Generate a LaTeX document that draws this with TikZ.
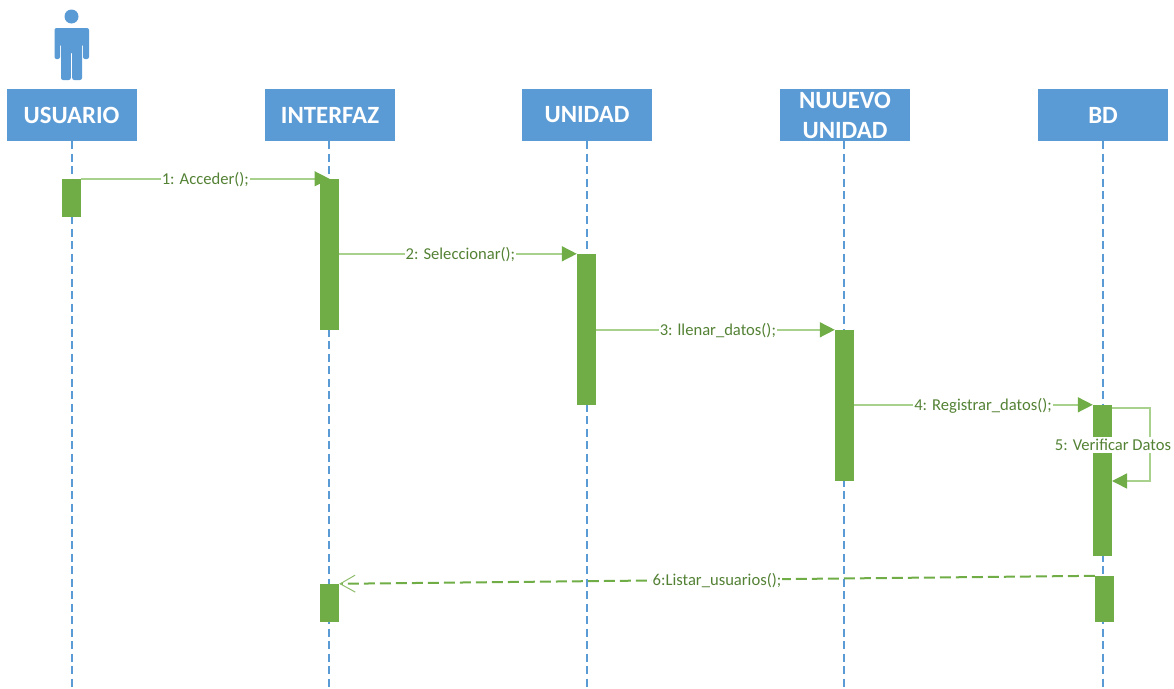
\documentclass[tikz,border=0pt]{standalone}
\usepackage{fontspec}
\setmainfont{Carlito}
\usetikzlibrary{arrows.meta}
\definecolor{boxblue}{HTML}{5B9BD5}
\definecolor{barGreen}{HTML}{70AD47}
\definecolor{lineGreen}{HTML}{A9D18E}
\definecolor{textGreen}{HTML}{548235}
\tikzset{
  headbox/.style={rectangle, fill=boxblue, text=white, inner sep=0pt, minimum width=130pt, minimum height=52pt, align=center, font=\fontsize{24.8}{30}\selectfont\bfseries},
  lifeline/.style={draw=boxblue, line width=2.2pt, dash pattern=on 8pt off 4.5pt},
  bar/.style={rectangle, fill=barGreen, inner sep=0pt, minimum width=19pt},
  msg/.style={draw=lineGreen, line width=1.5pt, -{Triangle[length=15pt, width=15pt, color=barGreen]}},
  backmsg/.style={draw=barGreen, line width=2pt, dash pattern=on 11pt off 5pt, -{Straight Barb[length=15pt, width=17pt, line width=1pt, color=barGreen!80!white]}},
  msglabel/.style={fill=white, text=textGreen, inner sep=1pt, font=\fontsize{16.6}{18}\selectfont},
}
\begin{document}
\begin{tikzpicture}[x=1pt, y=-1pt]
\useasboundingbox (0,0) rectangle (1174,688);
\fill[boxblue] (71.5,16.5) circle (7);
\fill[boxblue, rounded corners=2pt] (54.5,59) -- (54.5,28) -- (89,28) -- (89,59) -- (83,59) -- (83,44) -- (82,44) -- (82,80) -- (72.2,80) -- (72.2,52) -- (70.8,52) -- (70.8,80) -- (61,80) -- (61,44) -- (60,44) -- (60,59) -- cycle;
\node[headbox] (usuario) at (71.5,115){USUARIO};
\node[headbox] (interfaz) at (330,115){INTERFAZ};
\node[headbox] (unidad) at (587,115){UNIDAD};
\node[headbox] (nuevo) at (845,115){NUUEVO\\UNIDAD};
\node[headbox] (bd) at (1103,115){BD};
\coordinate (endusuario) at (72,688);
\coordinate (endinterfaz) at (329,688);
\coordinate (endunidad) at (587,688);
\coordinate (endnuevo) at (844,688);
\coordinate (endbd) at (1103,688);
\draw[lifeline] (72,141) -- (endusuario);
\draw[lifeline] (329,141) -- (endinterfaz);
\draw[lifeline] (587,141) -- (endunidad);
\draw[lifeline] (844,141) -- (endnuevo);
\draw[lifeline] (1103,141) -- (endbd);
\node[bar, minimum height=38pt] (bar1) at (71.5,198){};
\node[bar, minimum height=151pt] (bar2) at (329.5,254.5){};
\node[bar, minimum height=151pt] (bar3) at (586.5,329.5){};
\node[bar, minimum height=151pt] (bar4) at (844.5,405.5){};
\node[bar, minimum height=151pt] (bar5) at (1102.5,480.5){};
\node[bar, minimum height=38pt] (bar6) at (329.5,603){};
\node[bar, minimum height=46pt] (bar7) at (1104.5,599){};
\coordinate (loopout) at (1112,408);
\coordinate (loopright) at (1150,408);
\coordinate (loopdown) at (1150,481);
\coordinate (loopin) at (1112,481);
\draw[msg] (bar1.north east) -- node[msglabel, yshift=-1pt]{1: Acceder();} (bar2.north);
\draw[msg] (bar2.east |- bar3.north) -- node[msglabel, pos=.51, yshift=-1pt]{2: Seleccionar();} (bar3.north west);
\draw[msg] (bar3.east |- bar4.north) -- node[msglabel, pos=.51, yshift=-1pt]{3: llenar\_datos();} (bar4.north west);
\draw[msg] (bar4.east |- bar5.north) -- node[msglabel, pos=.54, yshift=-1pt]{4: Registrar\_datos();} (bar5.north west);
\draw[msg] (loopout) -- (loopright) -- (loopdown) -- (loopin);
\node[msglabel, inner sep=2.5pt] (verificar) at (1113,445){5: Verificar Datos};
\draw[backmsg] (bar7.north west) -- node[msglabel, pos=.5, yshift=-1pt]{6:Listar\_usuarios();} (bar6.north east);
\end{tikzpicture}
\end{document}
